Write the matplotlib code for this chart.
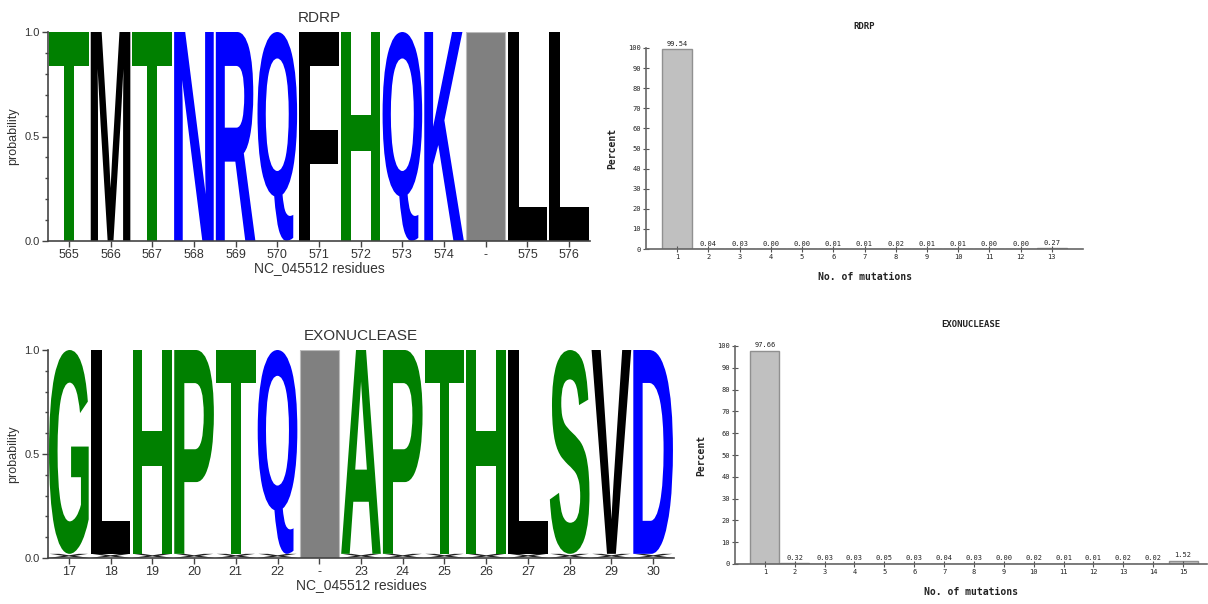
import matplotlib
matplotlib.use("Agg")
import matplotlib.pyplot as plt
from matplotlib.textpath import TextPath
from matplotlib.font_manager import FontProperties
from matplotlib.patches import PathPatch, Rectangle
from matplotlib.transforms import Affine2D
from matplotlib.ticker import MultipleLocator

# ---------------- data ----------------
rdrp_positions = ['565', '566', '567', '568', '569', '570', '571', '572', '573', '574', '-', '575', '576']
rdrp_residues = ['T', 'M', 'T', 'N', 'R', 'Q', 'F', 'H', 'Q', 'K', '-', 'L', 'L']
rdrp_prob = [1.0, 1.0, 1.0, 1.0, 1.0, 1.0, 1.0, 1.0, 1.0, 1.0, 1.0, 1.0, 1.0]
rdrp_minor = [0.0] * 13

exo_positions = ['17', '18', '19', '20', '21', '22', '-', '23', '24', '25', '26', '27', '28', '29', '30']
exo_residues = ['G', 'L', 'H', 'P', 'T', 'Q', '-', 'A', 'P', 'T', 'H', 'L', 'S', 'V', 'D']
exo_minor = [0.02, 0.02, 0.02, 0.02, 0.02, 0.02, 0.0, 0.02, 0.02, 0.02, 0.02, 0.02, 0.02, 0.02, 0.02]
exo_prob = [0.98, 0.98, 0.98, 0.98, 0.98, 0.98, 1.0, 0.98, 0.98, 0.98, 0.98, 0.98, 0.98, 0.98, 0.98]

rdrp_mut = list(range(1, 14))
rdrp_pct = [99.54, 0.04, 0.03, 0.00, 0.00, 0.01, 0.01, 0.02, 0.01, 0.01, 0.00, 0.00, 0.27]

exo_mut = list(range(1, 16))
exo_pct = [97.66, 0.32, 0.03, 0.03, 0.05, 0.03, 0.04, 0.03, 0.00, 0.02, 0.01, 0.01, 0.02, 0.02, 1.52]

residue_colors = {'T': '#008000', 'M': '#000000', 'N': '#0000ff', 'R': '#0000ff', 'Q': '#0000ff',
                  'F': '#000000', 'H': '#008000', 'K': '#0000ff', 'L': '#000000', 'G': '#008000',
                  'P': '#008000', 'A': '#008000', 'S': '#008000', 'V': '#000000', 'D': '#0000ff'}

W, H = 1208, 604
fig = plt.figure(figsize=(W / 100, H / 100), dpi=100)

def px_axes(x0, x1, ytop, ybot):
    return fig.add_axes([x0 / W, 1 - ybot / H, (x1 - x0) / W, (ybot - ytop) / H])

fp = FontProperties(family='Liberation Sans', weight='bold')
TXT = '#333333'

def draw_letter(ax, ch, x, y0, h, color, width=0.95):
    if h <= 0:
        return
    tp = TextPath((0, 0), ch, size=1, prop=fp)
    bb = tp.get_extents()
    t = (Affine2D().translate(-bb.x0, -bb.y0)
         .scale(width / bb.width, h / bb.height)
         .translate(x - width / 2, y0))
    ax.add_patch(PathPatch(t.transform_path(tp), fc=color, ec='none', lw=0))

def logo(ax, positions, residues, probs, minors, title):
    for i, (r, p, m) in enumerate(zip(residues, probs, minors)):
        if r == '-':
            ax.add_patch(Rectangle((i - 0.47, 0), 0.94, p, fc='#808080', ec='#bbbbbb', lw=0.8))
        else:
            draw_letter(ax, 'X', i, 0, m, '#222222', width=0.98)
            draw_letter(ax, r, i, m, p, residue_colors[r])
    ax.set_xlim(-0.5, len(positions) - 0.5)
    ax.set_ylim(0, 1.0)
    ax.set_xticks(range(len(positions)))
    ax.set_xticklabels(positions, fontsize=9, color=TXT, family='Liberation Sans')
    ax.set_yticks([0.0, 0.5, 1.0])
    ax.set_yticklabels(['0.0', '0.5', '1.0'], fontsize=8, color=TXT, family='Liberation Sans')
    ax.yaxis.set_minor_locator(MultipleLocator(0.1))
    ax.tick_params(axis='both', which='major', length=4, width=1, color='#444444', pad=2)
    ax.tick_params(axis='y', which='minor', length=2.5, width=1, color='#444444')
    for s in ['top', 'right']:
        ax.spines[s].set_visible(False)
    for s in ['left', 'bottom']:
        ax.spines[s].set_color('#444444')
        ax.spines[s].set_linewidth(1.2)
    ax.set_title(title, fontsize=11, color=TXT, family='Liberation Sans', pad=7)
    ax.set_xlabel('NC_045512 residues', fontsize=10, color=TXT, family='Liberation Sans', labelpad=0)
    ax.set_ylabel('probability', fontsize=9, color=TXT, family='Liberation Sans', labelpad=4)

ax1 = px_axes(48, 590, 32, 241)
logo(ax1, rdrp_positions, rdrp_residues, rdrp_prob, rdrp_minor, 'RDRP')

ax2 = px_axes(48, 674, 350, 558)
logo(ax2, exo_positions, exo_residues, exo_prob, exo_minor, 'EXONUCLEASE')

MONO = 'DejaVu Sans Mono'

def bars(ax, xs, vals, title, xmax):
    ax.bar(xs, vals, width=0.97, color='#c0c0c0', edgecolor='#909090', linewidth=1)
    for x, v in zip(xs, vals):
        ax.text(x, v + 1.2, f'{v:.2f}', ha='center', va='bottom', fontsize=5, family=MONO, color='#222222')
    ax.set_xlim(0, xmax)
    ax.set_ylim(0, 100)
    ax.set_xticks(xs)
    ax.set_xticklabels([str(x) for x in xs], fontsize=5, family=MONO, color='#222222')
    ax.set_yticks(range(0, 101, 10))
    ax.set_yticklabels([str(v) for v in range(0, 101, 10)], fontsize=5, family=MONO, color='#222222')
    ax.tick_params(axis='both', direction='inout', length=5, width=0.8, color='#555555', pad=1)
    for s in ['top', 'right']:
        ax.spines[s].set_visible(False)
    for s in ['left', 'bottom']:
        ax.spines[s].set_color('#666666')
        ax.spines[s].set_linewidth(1.2)
    ax.set_title(title, fontsize=6.5, family=MONO, weight='bold', color='#222222', pad=14)
    ax.set_xlabel('No. of mutations', fontsize=7, family=MONO, weight='bold', color='#222222', labelpad=9)
    ax.set_ylabel('Percent', fontsize=7, family=MONO, weight='bold', color='#222222', labelpad=8)

ax3 = px_axes(646, 1083, 48, 249)
bars(ax3, rdrp_mut, rdrp_pct, 'RDRP', 14)

ax4 = px_axes(735, 1207, 346, 564)
bars(ax4, exo_mut, exo_pct, 'EXONUCLEASE', 15.8)

fig.savefig('out.png', dpi=100)
